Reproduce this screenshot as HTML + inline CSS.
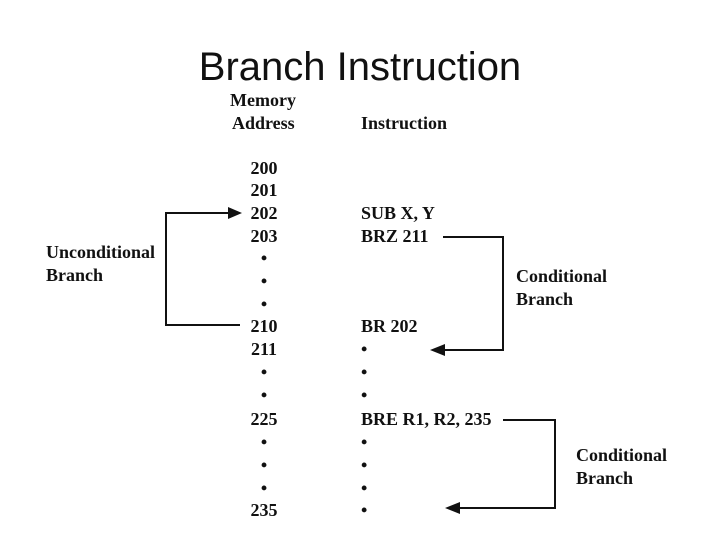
<!DOCTYPE html>
<html><head><meta charset="utf-8"><style>
body{margin:0;background:#fff;width:720px;height:540px;overflow:hidden}
svg text{font-family:"Liberation Serif",serif;font-weight:bold;font-size:18px;fill:#111}
</style></head><body>
<svg width="720" height="540" xmlns="http://www.w3.org/2000/svg">
<text x="360" y="80" text-anchor="middle" style="font-family:'Liberation Sans',sans-serif;font-weight:normal;font-size:40px">Branch Instruction</text>
<text x="230" y="106">Memory</text>
<text x="232" y="129">Address</text>
<text x="361" y="129">Instruction</text>
<g text-anchor="middle">
<text x="264" y="174">200</text><text x="264" y="196">201</text><text x="264" y="219">202</text><text x="264" y="242">203</text>
<text x="264" y="264">•</text><text x="264" y="287">•</text><text x="264" y="310">•</text>
<text x="264" y="332">210</text><text x="264" y="355">211</text>
<text x="264" y="378">•</text><text x="264" y="401">•</text>
<text x="264" y="425">225</text>
<text x="264" y="448">•</text><text x="264" y="471">•</text><text x="264" y="494">•</text>
<text x="264" y="516">235</text>
</g>
<text x="361" y="219">SUB X, Y</text>
<text x="361" y="242">BRZ 211</text>
<text x="361" y="332">BR 202</text>
<text x="361" y="355">•</text><text x="361" y="378">•</text><text x="361" y="401">•</text>
<text x="361" y="425">BRE R1, R2, 235</text>
<text x="361" y="448">•</text><text x="361" y="471">•</text><text x="361" y="494">•</text><text x="361" y="516">•</text>
<text x="46" y="258">Unconditional</text><text x="46" y="281">Branch</text>
<text x="516" y="282">Conditional</text><text x="516" y="305">Branch</text>
<text x="576" y="461">Conditional</text><text x="576" y="484">Branch</text>
<g fill="none" stroke="#111" stroke-width="2">
<polyline points="240,325 166,325 166,213 232,213"/>
<polyline points="443,237 503,237 503,350 440,350"/>
<polyline points="503,420 555,420 555,508 455,508"/>
</g>
<g fill="#111">
<polygon points="242,213 228,207 228,219"/>
<polygon points="430,350 445,344 445,356"/>
<polygon points="445,508 460,502 460,514"/>
</g>
</svg>
</body></html>
